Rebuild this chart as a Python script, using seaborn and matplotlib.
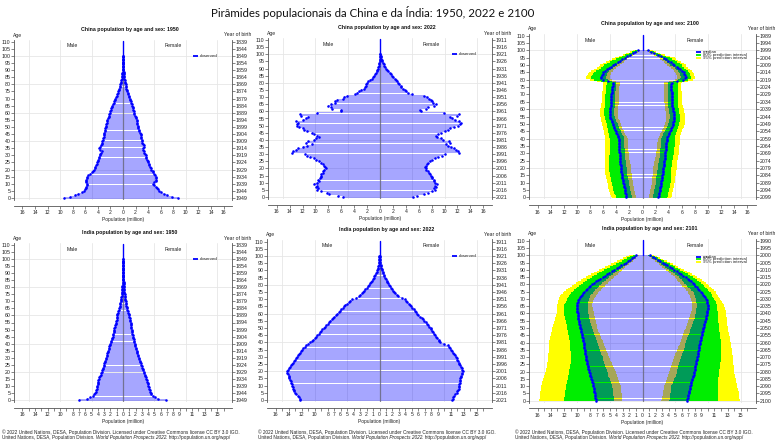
import numpy as np
import matplotlib
matplotlib.use("Agg")
import matplotlib.pyplot as plt
from matplotlib.lines import Line2D
import seaborn as sns

# ---------------- data (million people, single-year ages 0..100) ----------------
ages = list(range(101))
age_ticks = list(range(0, 111, 5))

cn1950_male = [
    9.4, 8.5, 7.6, 7.1, 6.6, 6.2, 6.0, 5.9, 5.9, 5.8,
    5.7, 5.9, 5.9, 5.9, 5.8, 5.8, 5.6, 5.2, 5.0, 4.8,
    4.6, 4.5, 4.4, 4.3, 4.2, 4.1, 4.0, 3.9, 3.8, 3.75,
    3.7, 3.6, 3.5, 3.4, 3.6, 3.8, 3.7, 3.5, 3.4, 3.35,
    3.3, 3.2, 3.15, 3.1, 3.05, 3.0, 2.95, 2.9, 2.85, 2.8,
    2.75, 2.7, 2.65, 2.6, 2.55, 2.5, 2.4, 2.3, 2.25, 2.2,
    2.1, 2.0, 1.9, 1.85, 1.8, 1.7, 1.6, 1.5, 1.4, 1.3,
    1.2, 1.1, 1.0, 0.9, 0.8, 0.75, 0.65, 0.6, 0.5, 0.45,
    0.4, 0.35, 0.3, 0.25, 0.2, 0.15, 0.12, 0.1, 0.08, 0.06,
    0.05, 0.04, 0.03, 0.02, 0.02, 0.01, 0.01, 0.01, 0.0, 0.0, 0.0]
cn1950_female = [
    8.7, 7.8, 7.0, 6.5, 6.1, 5.7, 5.5, 5.4, 5.2, 5.0,
    4.8, 5.0, 5.2, 5.2, 5.3, 5.2, 5.1, 5.0, 4.8, 4.7,
    4.5, 4.4, 4.3, 4.2, 4.1, 4.0, 3.9, 3.8, 3.7, 3.65,
    3.6, 3.5, 3.4, 3.3, 3.25, 3.2, 3.3, 3.3, 3.2, 3.1,
    3.0, 2.95, 2.9, 2.85, 2.8, 2.8, 2.7, 2.6, 2.5, 2.45,
    2.4, 2.35, 2.3, 2.25, 2.2, 2.2, 2.1, 2.0, 1.9, 1.8,
    1.75, 1.7, 1.65, 1.6, 1.55, 1.5, 1.4, 1.3, 1.2, 1.1,
    1.05, 0.95, 0.9, 0.8, 0.75, 0.7, 0.6, 0.55, 0.5, 0.45,
    0.4, 0.35, 0.3, 0.27, 0.23, 0.2, 0.17, 0.14, 0.11, 0.09,
    0.07, 0.05, 0.04, 0.03, 0.02, 0.02, 0.01, 0.01, 0.0, 0.0, 0.0]

cn2022_male = [
    5.7, 6.5, 7.9, 8.2, 9.2, 9.7, 9.6, 9.9, 9.7, 10.2,
    9.7, 9.5, 9.6, 9.3, 9.2, 9.2, 9.1, 8.9, 8.8, 8.6,
    8.4, 8.5, 8.6, 8.9, 9.1, 9.4, 9.9, 10.3, 10.8, 11.3,
    11.6, 13.7, 13.4, 13.0, 12.7, 11.9, 11.3, 10.5, 11.5, 11.1,
    10.3, 9.9, 9.4, 9.7, 10.2, 10.5, 11.3, 11.8, 12.0, 12.5,
    12.8, 12.9, 12.7, 13.0, 12.0, 11.5, 11.2, 12.3, 12.4, 9.7,
    6.0, 6.1, 7.4, 7.6, 8.1, 7.6, 6.9, 7.0, 6.6, 5.7,
    5.5, 5.1, 3.9, 3.6, 3.2, 2.9, 2.5, 2.4, 2.2, 2.1,
    2.0, 1.8, 1.5, 1.2, 1.1, 0.9, 0.7, 0.6, 0.5, 0.4,
    0.3, 0.25, 0.2, 0.15, 0.1, 0.07, 0.05, 0.03, 0.02, 0.01, 0.01]
cn2022_female = [
    5.05, 5.7, 6.8, 7.4, 8.1, 8.5, 8.4, 8.7, 8.5, 8.8,
    8.5, 8.3, 8.3, 8.1, 8.0, 7.9, 7.8, 7.6, 7.4, 7.2,
    7.1, 7.0, 7.1, 7.3, 7.5, 7.7, 8.1, 8.5, 9.0, 9.6,
    10.0, 12.3, 12.1, 11.8, 11.5, 11.0, 10.6, 10.2, 10.9, 10.7,
    9.8, 9.4, 8.8, 8.7, 9.0, 9.4, 10.0, 10.5, 10.8, 11.4,
    12.1, 12.4, 12.5, 12.3, 11.6, 11.2, 10.9, 12.0, 12.3, 9.9,
    6.3, 6.2, 7.2, 7.5, 8.3, 8.6, 8.2, 8.1, 7.9, 7.6,
    7.3, 6.8, 5.0, 4.4, 4.0, 3.8, 3.5, 3.3, 3.2, 3.0,
    2.8, 2.6, 2.5, 2.3, 2.0, 1.8, 1.7, 1.5, 1.3, 1.1,
    0.9, 0.8, 0.65, 0.55, 0.45, 0.35, 0.25, 0.2, 0.15, 0.1, 0.07]

# China 2100 projection: median and prediction intervals
cn2100_male = [
    2.45, 2.5, 2.55, 2.6, 2.65, 2.7, 2.75, 2.8, 2.85, 2.9,
    2.95, 3.0, 3.05, 3.1, 3.15, 3.2, 3.2, 3.25, 3.25, 3.3,
    3.3, 3.35, 3.35, 3.4, 3.4, 3.45, 3.45, 3.5, 3.5, 3.5,
    3.5, 3.55, 3.55, 3.55, 3.6, 3.6, 3.6, 3.6, 3.6, 3.6,
    3.6, 3.7, 3.8, 3.9, 4.0, 4.1, 4.2, 4.3, 4.4, 4.45,
    4.5, 4.6, 4.7, 4.8, 4.9, 4.95, 5.0, 5.0, 5.0, 5.0,
    4.95, 4.9, 4.85, 4.8, 4.8, 4.75, 4.75, 4.75, 4.75, 4.75,
    4.75, 4.7, 4.7, 4.65, 4.6, 4.6, 4.55, 4.5, 4.5, 5.2,
    6.0, 6.3, 6.3, 6.2, 6.1, 6.0, 5.7, 5.4, 5.1, 4.8,
    4.5, 4.2, 3.8, 3.5, 3.1, 2.7, 2.3, 1.9, 1.5, 1.1, 0.7]
cn2100_male_lo80 = [
    1.6, 1.65, 1.7, 1.75, 1.8, 1.85, 1.9, 1.95, 2.0, 2.05,
    2.1, 2.1, 2.15, 2.2, 2.25, 2.3, 2.3, 2.35, 2.35, 2.4,
    2.4, 2.45, 2.45, 2.5, 2.5, 2.55, 2.6, 2.6, 2.65, 2.65,
    2.7, 2.7, 2.75, 2.75, 2.8, 2.8, 2.8, 2.8, 2.8, 2.8,
    2.8, 2.9, 3.0, 3.1, 3.25, 3.35, 3.45, 3.55, 3.65, 3.75,
    3.8, 3.9, 4.0, 4.1, 4.2, 4.25, 4.3, 4.3, 4.3, 4.3,
    4.3, 4.25, 4.25, 4.2, 4.2, 4.2, 4.2, 4.2, 4.2, 4.2,
    4.2, 4.15, 4.15, 4.1, 4.1, 4.1, 4.05, 4.0, 4.0, 4.6,
    5.3, 5.6, 5.6, 5.5, 5.4, 5.3, 5.05, 4.8, 4.5, 4.2,
    3.9, 3.65, 3.3, 3.0, 2.7, 2.3, 1.95, 1.6, 1.25, 0.9, 0.55]
cn2100_male_lo95 = [
    1.0, 1.05, 1.1, 1.15, 1.2, 1.25, 1.3, 1.35, 1.4, 1.45,
    1.5, 1.5, 1.55, 1.6, 1.6, 1.65, 1.65, 1.7, 1.7, 1.7,
    1.7, 1.75, 1.8, 1.85, 1.9, 1.95, 2.0, 2.0, 2.05, 2.1,
    2.1, 2.15, 2.15, 2.2, 2.2, 2.2, 2.2, 2.2, 2.2, 2.2,
    2.2, 2.35, 2.5, 2.65, 2.8, 2.9, 3.0, 3.1, 3.2, 3.25,
    3.3, 3.4, 3.5, 3.6, 3.7, 3.75, 3.8, 3.8, 3.8, 3.8,
    3.75, 3.7, 3.7, 3.65, 3.65, 3.6, 3.6, 3.6, 3.6, 3.6,
    3.6, 3.6, 3.6, 3.55, 3.55, 3.55, 3.5, 3.5, 3.5, 4.1,
    4.7, 5.0, 5.0, 4.9, 4.85, 4.8, 4.55, 4.3, 4.0, 3.7,
    3.4, 3.15, 2.9, 2.6, 2.3, 2.0, 1.7, 1.4, 1.1, 0.75, 0.45]
cn2100_male_hi80 = [
    4.0, 4.1, 4.2, 4.3, 4.4, 4.45, 4.5, 4.55, 4.6, 4.65,
    4.7, 4.75, 4.8, 4.85, 4.9, 4.95, 5.0, 5.0, 5.05, 5.1,
    5.1, 5.1, 5.1, 5.1, 5.1, 5.1, 5.1, 5.05, 5.05, 5.0,
    5.0, 5.0, 5.0, 5.0, 5.0, 5.0, 5.0, 5.0, 5.0, 5.0,
    5.0, 5.05, 5.1, 5.15, 5.2, 5.25, 5.3, 5.35, 5.4, 5.45,
    5.5, 5.55, 5.6, 5.7, 5.75, 5.8, 5.85, 5.9, 5.9, 5.9,
    5.85, 5.8, 5.8, 5.75, 5.75, 5.7, 5.7, 5.7, 5.7, 5.7,
    5.7, 5.65, 5.65, 5.6, 5.6, 5.6, 5.55, 5.5, 5.5, 6.4,
    7.4, 7.8, 7.8, 7.7, 7.55, 7.4, 7.05, 6.7, 6.35, 6.1,
    5.9, 5.5, 5.0, 4.6, 4.1, 3.6, 3.1, 2.6, 2.1, 1.6, 1.1]
cn2100_male_hi95 = [
    4.7, 4.8, 4.9, 5.0, 5.1, 5.15, 5.2, 5.25, 5.3, 5.35,
    5.4, 5.45, 5.5, 5.55, 5.6, 5.65, 5.7, 5.7, 5.75, 5.8,
    5.8, 5.8, 5.8, 5.8, 5.8, 5.8, 5.8, 5.75, 5.75, 5.7,
    5.7, 5.7, 5.7, 5.7, 5.7, 5.7, 5.7, 5.7, 5.7, 5.7,
    5.7, 5.75, 5.8, 5.85, 5.9, 5.95, 6.0, 6.05, 6.1, 6.15,
    6.2, 6.25, 6.3, 6.35, 6.4, 6.45, 6.5, 6.5, 6.5, 6.5,
    6.45, 6.4, 6.4, 6.35, 6.3, 6.25, 6.2, 6.2, 6.2, 6.2,
    6.2, 6.15, 6.15, 6.1, 6.1, 6.1, 6.05, 6.0, 6.0, 7.0,
    8.1, 8.6, 8.6, 8.5, 8.35, 8.2, 7.8, 7.4, 7.0, 6.7,
    6.5, 6.1, 5.6, 5.1, 4.7, 4.2, 3.6, 3.0, 2.5, 1.9, 1.4]

cn2100_female = [
    2.4, 2.45, 2.5, 2.55, 2.6, 2.65, 2.7, 2.75, 2.8, 2.85,
    2.9, 2.9, 2.95, 3.0, 3.0, 3.05, 3.1, 3.1, 3.15, 3.2,
    3.2, 3.25, 3.25, 3.3, 3.3, 3.35, 3.4, 3.4, 3.45, 3.45,
    3.5, 3.5, 3.55, 3.55, 3.6, 3.6, 3.65, 3.65, 3.7, 3.7,
    3.7, 3.8, 3.9, 4.0, 4.1, 4.2, 4.3, 4.4, 4.5, 4.6,
    4.65, 4.7, 4.75, 4.8, 4.85, 4.85, 4.85, 4.8, 4.75, 4.7,
    4.65, 4.6, 4.55, 4.5, 4.5, 4.45, 4.45, 4.45, 4.45, 4.45,
    4.45, 4.45, 4.45, 4.4, 4.4, 4.4, 4.4, 4.4, 4.45, 5.3,
    6.2, 6.5, 6.6, 6.5, 6.4, 6.3, 6.1, 5.8, 5.5, 5.2,
    4.85, 4.6, 4.3, 3.9, 3.6, 3.3, 2.8, 2.3, 1.8, 1.3, 0.8]
cn2100_female_lo80 = [
    1.55, 1.6, 1.65, 1.7, 1.75, 1.8, 1.85, 1.9, 1.95, 2.0,
    2.0, 2.0, 2.05, 2.1, 2.1, 2.15, 2.2, 2.2, 2.25, 2.3,
    2.3, 2.35, 2.35, 2.4, 2.45, 2.5, 2.55, 2.6, 2.65, 2.65,
    2.7, 2.7, 2.75, 2.75, 2.8, 2.8, 2.85, 2.85, 2.9, 2.9,
    2.9, 3.0, 3.1, 3.2, 3.3, 3.45, 3.55, 3.65, 3.75, 3.85,
    3.95, 4.0, 4.05, 4.1, 4.15, 4.15, 4.15, 4.1, 4.05, 4.0,
    4.0, 3.95, 3.9, 3.9, 3.9, 3.85, 3.85, 3.85, 3.85, 3.9,
    3.9, 3.9, 3.9, 3.85, 3.85, 3.85, 3.85, 3.85, 3.9, 4.7,
    5.5, 5.8, 5.9, 5.8, 5.7, 5.6, 5.4, 5.15, 4.9, 4.6,
    4.25, 4.0, 3.75, 3.4, 3.15, 2.9, 2.45, 2.0, 1.55, 1.1, 0.65]
cn2100_female_lo95 = [
    0.95, 1.0, 1.05, 1.1, 1.15, 1.2, 1.25, 1.3, 1.35, 1.4,
    1.4, 1.4, 1.45, 1.5, 1.5, 1.55, 1.55, 1.55, 1.6, 1.6,
    1.6, 1.65, 1.7, 1.75, 1.8, 1.85, 1.9, 1.95, 2.0, 2.05,
    2.1, 2.1, 2.15, 2.15, 2.2, 2.2, 2.25, 2.25, 2.3, 2.3,
    2.3, 2.45, 2.6, 2.7, 2.8, 2.95, 3.05, 3.15, 3.25, 3.35,
    3.45, 3.5, 3.55, 3.6, 3.65, 3.65, 3.65, 3.6, 3.55, 3.5,
    3.5, 3.45, 3.4, 3.4, 3.4, 3.35, 3.35, 3.35, 3.35, 3.35,
    3.35, 3.35, 3.35, 3.3, 3.3, 3.3, 3.3, 3.3, 3.35, 4.1,
    4.9, 5.2, 5.3, 5.2, 5.1, 5.0, 4.8, 4.6, 4.35, 4.1,
    3.75, 3.5, 3.3, 3.0, 2.75, 2.55, 2.15, 1.75, 1.35, 0.95, 0.55]
cn2100_female_hi80 = [
    3.8, 3.85, 3.9, 3.95, 4.0, 4.05, 4.1, 4.15, 4.2, 4.25,
    4.3, 4.3, 4.35, 4.35, 4.4, 4.4, 4.4, 4.4, 4.4, 4.4,
    4.4, 4.45, 4.45, 4.5, 4.5, 4.55, 4.6, 4.65, 4.7, 4.75,
    4.8, 4.8, 4.85, 4.85, 4.85, 4.9, 4.9, 4.9, 4.9, 4.9,
    4.9, 4.95, 5.0, 5.05, 5.1, 5.2, 5.3, 5.4, 5.5, 5.55,
    5.6, 5.65, 5.7, 5.7, 5.7, 5.7, 5.7, 5.65, 5.6, 5.6,
    5.55, 5.5, 5.5, 5.5, 5.5, 5.5, 5.5, 5.5, 5.5, 5.5,
    5.5, 5.5, 5.5, 5.45, 5.45, 5.45, 5.45, 5.4, 5.45, 6.4,
    7.0, 7.4, 7.4, 7.3, 7.2, 7.1, 6.9, 6.6, 6.3, 6.1,
    6.0, 5.7, 5.3, 4.9, 4.5, 4.2, 3.6, 2.9, 2.3, 1.7, 1.2]
cn2100_female_hi95 = [
    4.4, 4.45, 4.5, 4.55, 4.6, 4.65, 4.7, 4.75, 4.8, 4.85,
    4.9, 4.9, 4.95, 5.0, 5.0, 5.05, 5.1, 5.1, 5.15, 5.2,
    5.2, 5.25, 5.25, 5.3, 5.3, 5.35, 5.4, 5.45, 5.5, 5.55,
    5.6, 5.6, 5.6, 5.65, 5.65, 5.65, 5.7, 5.7, 5.7, 5.7,
    5.7, 5.75, 5.8, 5.85, 5.9, 6.0, 6.1, 6.2, 6.3, 6.4,
    6.45, 6.5, 6.5, 6.5, 6.5, 6.5, 6.5, 6.45, 6.4, 6.35,
    6.3, 6.2, 6.15, 6.1, 6.05, 6.0, 6.0, 6.0, 6.0, 6.0,
    6.0, 6.0, 6.0, 5.95, 5.95, 5.95, 5.95, 5.9, 6.0, 7.0,
    7.7, 8.0, 8.0, 7.9, 7.8, 7.7, 7.5, 7.2, 6.9, 6.7,
    6.7, 6.3, 5.9, 5.5, 5.1, 5.0, 4.2, 3.4, 2.7, 2.0, 1.6]

in1950_male = [
    7.0, 5.7, 5.2, 4.8, 4.6, 4.4, 4.3, 4.25, 4.2, 4.15,
    4.1, 4.05, 4.0, 3.95, 3.9, 3.8, 3.75, 3.65, 3.55, 3.5,
    3.4, 3.3, 3.25, 3.15, 3.1, 3.0, 2.95, 2.9, 2.8, 2.7,
    2.65, 2.6, 2.55, 2.5, 2.45, 2.4, 2.3, 2.25, 2.15, 2.1,
    2.0, 1.95, 1.85, 1.8, 1.7, 1.65, 1.6, 1.55, 1.5, 1.47,
    1.45, 1.4, 1.3, 1.2, 1.15, 1.1, 1.05, 1.0, 1.0, 0.97,
    0.95, 0.88, 0.8, 0.72, 0.65, 0.6, 0.55, 0.5, 0.45, 0.4,
    0.37, 0.33, 0.3, 0.26, 0.23, 0.2, 0.18, 0.15, 0.13, 0.11,
    0.1, 0.08, 0.07, 0.06, 0.05, 0.04, 0.03, 0.03, 0.02, 0.02,
    0.01, 0.01, 0.01, 0.0, 0.0, 0.0, 0.0, 0.0, 0.0, 0.0, 0.0]
in1950_female = [
    6.9, 5.6, 5.1, 4.7, 4.5, 4.4, 4.3, 4.25, 4.2, 4.1,
    4.05, 4.0, 3.95, 3.85, 3.8, 3.7, 3.6, 3.55, 3.45, 3.4,
    3.3, 3.2, 3.15, 3.05, 3.0, 2.9, 2.85, 2.75, 2.65, 2.6,
    2.5, 2.45, 2.4, 2.3, 2.2, 2.15, 2.1, 2.0, 1.95, 1.9,
    1.85, 1.8, 1.75, 1.7, 1.65, 1.6, 1.55, 1.5, 1.45, 1.42,
    1.4, 1.35, 1.3, 1.25, 1.22, 1.2, 1.15, 1.1, 1.05, 1.0,
    0.95, 0.88, 0.8, 0.72, 0.65, 0.6, 0.56, 0.52, 0.47, 0.43,
    0.4, 0.37, 0.33, 0.3, 0.27, 0.25, 0.22, 0.2, 0.18, 0.16,
    0.15, 0.13, 0.11, 0.09, 0.08, 0.07, 0.06, 0.05, 0.04, 0.03,
    0.02, 0.02, 0.01, 0.01, 0.01, 0.0, 0.0, 0.0, 0.0, 0.0, 0.0]

in2022_male = [
    12.2, 12.25, 12.4, 12.6, 12.9, 13.1, 13.15, 13.2, 13.3, 13.4,
    13.5, 13.55, 13.6, 13.7, 13.8, 13.9, 13.95, 14.0, 14.1, 14.2,
    14.3, 14.1, 13.9, 13.75, 13.6, 13.5, 13.35, 13.2, 13.1, 12.9,
    12.7, 12.55, 12.4, 12.3, 12.15, 12.0, 11.8, 11.5, 11.3, 11.0,
    10.7, 10.45, 10.2, 10.0, 9.8, 9.6, 9.4, 9.2, 9.0, 8.8,
    8.6, 8.4, 8.2, 8.0, 7.8, 7.6, 7.4, 7.2, 6.95, 6.7,
    6.5, 6.3, 6.1, 5.9, 5.7, 5.5, 5.25, 5.0, 4.75, 4.5,
    4.2, 3.7, 3.2, 3.0, 2.75, 2.5, 2.35, 2.2, 2.0, 1.8,
    1.65, 1.5, 1.35, 1.2, 1.05, 0.9, 0.8, 0.7, 0.55, 0.45,
    0.35, 0.3, 0.25, 0.2, 0.15, 0.1, 0.08, 0.06, 0.04, 0.03, 0.02]
in2022_female = [
    11.2, 11.3, 11.4, 11.5, 11.7, 11.9, 12.0, 12.1, 12.2, 12.25,
    12.3, 12.3, 12.35, 12.35, 12.4, 12.4, 12.5, 12.6, 12.7, 12.8,
    12.9, 12.8, 12.7, 12.6, 12.45, 12.3, 12.2, 12.1, 12.0, 11.9,
    11.75, 11.6, 11.5, 11.4, 11.25, 11.1, 10.9, 10.7, 10.5, 10.0,
    9.4, 9.25, 9.1, 8.9, 8.75, 8.6, 8.45, 8.3, 8.15, 8.0,
    7.9, 7.7, 7.5, 7.3, 7.1, 6.9, 6.7, 6.5, 6.25, 6.0,
    5.8, 5.6, 5.45, 5.25, 5.05, 4.9, 4.7, 4.5, 4.3, 4.1,
    3.9, 3.4, 2.9, 2.7, 2.45, 2.2, 2.05, 1.9, 1.75, 1.6,
    1.45, 1.3, 1.2, 1.1, 0.95, 0.8, 0.72, 0.64, 0.56, 0.48,
    0.4, 0.35, 0.3, 0.25, 0.2, 0.15, 0.12, 0.09, 0.06, 0.04, 0.03]

# India 2101 projection: median and prediction intervals
in2100_male = [
    7.1, 7.15, 7.2, 7.2, 7.25, 7.3, 7.35, 7.4, 7.4, 7.45,
    7.5, 7.55, 7.6, 7.7, 7.75, 7.8, 7.9, 8.0, 8.05, 8.1,
    8.2, 8.25, 8.3, 8.35, 8.4, 8.45, 8.5, 8.55, 8.6, 8.65,
    8.7, 8.7, 8.75, 8.8, 8.8, 8.85, 8.9, 8.9, 8.95, 9.0,
    9.0, 9.05, 9.1, 9.15, 9.2, 9.25, 9.3, 9.35, 9.4, 9.45,
    9.5, 9.55, 9.6, 9.65, 9.7, 9.75, 9.8, 9.85, 9.85, 9.9,
    9.9, 9.95, 9.95, 10.0, 10.0, 10.0, 10.0, 9.95, 9.9, 9.8,
    9.7, 9.6, 9.45, 9.3, 9.1, 8.9, 8.7, 8.45, 8.2, 7.95,
    7.7, 7.4, 7.1, 6.8, 6.45, 6.1, 5.75, 5.4, 5.05, 4.7,
    4.3, 3.95, 3.6, 3.25, 2.9, 2.55, 2.2, 1.9, 1.6, 1.3, 1.0]
in2100_male_lo80 = [
    4.3, 4.35, 4.4, 4.4, 4.45, 4.5, 4.5, 4.55, 4.55, 4.6,
    4.6, 4.7, 4.8, 4.85, 4.95, 5.0, 5.1, 5.2, 5.25, 5.3,
    5.4, 5.45, 5.55, 5.6, 5.7, 5.75, 5.85, 5.9, 6.0, 6.05,
    6.1, 6.2, 6.3, 6.35, 6.45, 6.5, 6.6, 6.65, 6.75, 6.8,
    6.9, 7.0, 7.05, 7.15, 7.25, 7.3, 7.4, 7.45, 7.55, 7.6,
    7.7, 7.75, 7.8, 7.9, 7.95, 8.0, 8.1, 8.15, 8.2, 8.25,
    8.3, 8.3, 8.35, 8.35, 8.4, 8.4, 8.4, 8.35, 8.3, 8.25,
    8.2, 8.1, 7.95, 7.8, 7.6, 7.4, 7.2, 7.0, 6.8, 6.6,
    6.4, 6.15, 5.9, 5.6, 5.35, 5.1, 4.8, 4.5, 4.2, 3.9,
    3.6, 3.3, 3.0, 2.7, 2.35, 2.0, 1.75, 1.5, 1.25, 1.0, 0.77]
in2100_male_lo95 = [
    3.1, 3.1, 3.15, 3.15, 3.2, 3.2, 3.25, 3.25, 3.3, 3.3,
    3.3, 3.4, 3.5, 3.55, 3.65, 3.7, 3.8, 3.9, 3.95, 4.0,
    4.1, 4.2, 4.3, 4.4, 4.5, 4.6, 4.7, 4.8, 4.9, 5.0,
    5.1, 5.2, 5.3, 5.4, 5.5, 5.55, 5.65, 5.75, 5.85, 5.9,
    6.0, 6.1, 6.2, 6.3, 6.4, 6.45, 6.55, 6.65, 6.75, 6.8,
    6.9, 6.95, 7.0, 7.05, 7.1, 7.15, 7.2, 7.25, 7.3, 7.35,
    7.4, 7.45, 7.5, 7.55, 7.6, 7.7, 7.7, 7.65, 7.55, 7.5,
    7.4, 7.3, 7.15, 7.0, 6.8, 6.6, 6.4, 6.2, 6.0, 5.8,
    5.6, 5.35, 5.1, 4.8, 4.55, 4.3, 4.05, 3.8, 3.55, 3.3,
    3.1, 2.85, 2.6, 2.35, 2.05, 1.7, 1.5, 1.3, 1.05, 0.8, 0.6]
in2100_male_hi80 = [
    12.0, 12.0, 11.95, 11.9, 11.9, 11.85, 11.8, 11.8, 11.75, 11.7,
    11.7, 11.65, 11.6, 11.55, 11.5, 11.45, 11.4, 11.35, 11.3, 11.25,
    11.2, 11.2, 11.15, 11.1, 11.1, 11.05, 11.0, 11.0, 11.0, 11.0,
    11.0, 11.0, 11.0, 11.0, 11.0, 11.05, 11.05, 11.05, 11.1, 11.1,
    11.1, 11.15, 11.2, 11.2, 11.25, 11.3, 11.35, 11.4, 11.45, 11.5,
    11.5, 11.55, 11.6, 11.65, 11.7, 11.75, 11.8, 11.85, 11.9, 11.95,
    12.0, 12.0, 12.0, 12.0, 12.0, 12.0, 11.95, 11.85, 11.75, 11.6,
    11.5, 11.35, 11.2, 11.05, 10.9, 10.7, 10.45, 10.2, 9.95, 9.7,
    9.4, 9.1, 8.8, 8.45, 8.1, 7.7, 7.35, 7.0, 6.6, 6.25,
    5.9, 5.45, 5.0, 4.55, 4.1, 3.6, 3.2, 2.8, 2.4, 1.95, 1.5]
in2100_male_hi95 = [
    15.8, 15.75, 15.7, 15.7, 15.65, 15.6, 15.6, 15.55, 15.5, 15.5,
    15.5, 15.4, 15.35, 15.3, 15.2, 15.15, 15.1, 15.0, 14.95, 14.9,
    14.8, 14.75, 14.7, 14.65, 14.6, 14.6, 14.55, 14.5, 14.45, 14.4,
    14.4, 14.4, 14.4, 14.35, 14.35, 14.35, 14.3, 14.3, 14.3, 14.3,
    14.3, 14.25, 14.2, 14.15, 14.1, 14.05, 14.0, 13.95, 13.9, 13.85,
    13.8, 13.75, 13.65, 13.6, 13.5, 13.45, 13.4, 13.3, 13.25, 13.2,
    13.1, 13.1, 13.05, 13.05, 13.0, 13.0, 13.0, 12.95, 12.9, 12.85,
    12.8, 12.7, 12.6, 12.4, 12.2, 12.0, 11.7, 11.4, 11.1, 10.8,
    10.5, 10.15, 9.8, 9.45, 9.1, 8.7, 8.3, 7.9, 7.45, 7.0,
    6.6, 6.15, 5.7, 5.2, 4.75, 4.3, 3.85, 3.4, 2.95, 2.5, 2.0]

in2100_female = [
    6.8, 6.85, 6.9, 6.95, 7.0, 7.05, 7.1, 7.15, 7.2, 7.25,
    7.3, 7.35, 7.4, 7.45, 7.5, 7.6, 7.65, 7.7, 7.8, 7.85,
    7.9, 7.95, 8.0, 8.05, 8.1, 8.15, 8.2, 8.25, 8.3, 8.35,
    8.4, 8.45, 8.5, 8.5, 8.55, 8.6, 8.65, 8.7, 8.7, 8.75,
    8.8, 8.85, 8.9, 8.95, 9.0, 9.05, 9.1, 9.15, 9.2, 9.25,
    9.3, 9.35, 9.4, 9.45, 9.5, 9.6, 9.65, 9.7, 9.75, 9.8,
    9.85, 9.9, 9.9, 9.95, 9.95, 9.95, 9.95, 9.9, 9.85, 9.8,
    9.7, 9.6, 9.45, 9.3, 9.1, 8.9, 8.7, 8.5, 8.3, 8.1,
    7.9, 7.65, 7.4, 7.15, 6.9, 6.6, 6.25, 5.9, 5.55, 5.2,
    4.85, 4.5, 4.15, 3.8, 3.45, 3.1, 2.7, 2.3, 1.95, 1.55, 1.2]
in2100_female_lo80 = [
    4.1, 4.15, 4.2, 4.2, 4.25, 4.25, 4.3, 4.3, 4.35, 4.35,
    4.4, 4.5, 4.6, 4.7, 4.8, 4.85, 4.95, 5.05, 5.15, 5.2,
    5.3, 5.35, 5.4, 5.45, 5.5, 5.6, 5.65, 5.7, 5.8, 5.85,
    5.9, 6.0, 6.05, 6.15, 6.2, 6.3, 6.35, 6.45, 6.5, 6.55,
    6.6, 6.7, 6.75, 6.85, 6.95, 7.0, 7.1, 7.2, 7.25, 7.3,
    7.4, 7.5, 7.55, 7.65, 7.7, 7.8, 7.85, 7.95, 8.05, 8.1,
    8.2, 8.2, 8.25, 8.25, 8.3, 8.3, 8.3, 8.3, 8.25, 8.2,
    8.2, 8.1, 8.0, 7.9, 7.8, 7.65, 7.45, 7.25, 7.0, 6.8,
    6.6, 6.4, 6.2, 6.0, 5.8, 5.6, 5.3, 5.0, 4.7, 4.4,
    4.1, 3.8, 3.5, 3.2, 2.85, 2.55, 2.2, 1.85, 1.5, 1.2, 0.9]
in2100_female_lo95 = [
    2.9, 2.95, 3.0, 3.05, 3.1, 3.1, 3.15, 3.2, 3.25, 3.3,
    3.3, 3.4, 3.5, 3.55, 3.65, 3.7, 3.8, 3.9, 3.95, 4.0,
    4.1, 4.15, 4.25, 4.3, 4.4, 4.45, 4.55, 4.6, 4.7, 4.75,
    4.8, 4.9, 5.0, 5.1, 5.2, 5.3, 5.4, 5.5, 5.6, 5.7,
    5.8, 5.9, 5.95, 6.05, 6.1, 6.2, 6.25, 6.35, 6.4, 6.5,
    6.6, 6.7, 6.75, 6.85, 6.9, 7.0, 7.05, 7.15, 7.2, 7.3,
    7.4, 7.45, 7.5, 7.55, 7.55, 7.6, 7.6, 7.55, 7.5, 7.45,
    7.4, 7.3, 7.2, 7.1, 7.0, 6.9, 6.7, 6.5, 6.3, 6.1,
    5.9, 5.7, 5.5, 5.3, 5.1, 4.9, 4.65, 4.4, 4.1, 3.85,
    3.6, 3.3, 3.0, 2.75, 2.45, 2.2, 1.9, 1.6, 1.3, 1.0, 0.77]
in2100_female_hi80 = [
    11.5, 11.5, 11.5, 11.5, 11.5, 11.5, 11.5, 11.5, 11.5, 11.5,
    11.5, 11.5, 11.55, 11.55, 11.6, 11.6, 11.6, 11.65, 11.65, 11.7,
    11.7, 11.75, 11.8, 11.8, 11.85, 11.9, 11.9, 11.95, 11.95, 12.0,
    12.0, 12.0, 12.0, 12.0, 12.0, 12.0, 12.0, 12.0, 12.0, 12.0,
    12.0, 11.95, 11.95, 11.9, 11.9, 11.85, 11.85, 11.8, 11.75, 11.7,
    11.7, 11.7, 11.65, 11.65, 11.6, 11.6, 11.55, 11.55, 11.5, 11.5,
    11.5, 11.5, 11.45, 11.45, 11.4, 11.4, 11.35, 11.3, 11.2, 11.1,
    11.0, 10.85, 10.7, 10.55, 10.4, 10.2, 10.0, 9.8, 9.6, 9.4,
    9.2, 8.9, 8.6, 8.3, 8.0, 7.65, 7.3, 6.95, 6.55, 6.2,
    5.8, 5.4, 5.0, 4.6, 4.15, 3.7, 3.3, 2.85, 2.4, 1.95, 1.5]
in2100_female_hi95 = [
    14.9, 14.85, 14.8, 14.8, 14.75, 14.7, 14.7, 14.6, 14.55, 14.5,
    14.5, 14.45, 14.4, 14.35, 14.3, 14.25, 14.2, 14.15, 14.1, 14.05,
    14.0, 14.0, 14.0, 13.95, 13.95, 13.9, 13.9, 13.85, 13.85, 13.8,
    13.8, 13.8, 13.75, 13.75, 13.7, 13.65, 13.65, 13.6, 13.55, 13.55,
    13.5, 13.45, 13.4, 13.35, 13.3, 13.25, 13.2, 13.15, 13.1, 13.05,
    13.0, 13.0, 12.95, 12.95, 12.9, 12.9, 12.85, 12.85, 12.8, 12.8,
    12.8, 12.75, 12.7, 12.6, 12.55, 12.5, 12.4, 12.3, 12.2, 12.05,
    11.9, 11.75, 11.6, 11.45, 11.3, 11.2, 10.95, 10.7, 10.45, 10.2,
    9.95, 9.65, 9.35, 9.05, 8.75, 8.4, 8.0, 7.6, 7.2, 6.8,
    6.4, 5.95, 5.5, 5.05, 4.6, 4.2, 3.7, 3.2, 2.75, 2.25, 1.8]

# x tick labels
china_xticks = list(range(-16, 17, 2))
india_xticks = list(range(-16, 17))
india_xlabels = ['16', '', '14', '', '12', '', '10', '', '8', '7', '6', '5', '4', '3', '2', '1',
                 '0', '1', '2', '3', '4', '5', '6', '7', '8', '9', '', '11', '', '13', '', '15', '']

# ---------------- style ----------------
sns.set_theme(style="white")
plt.rcParams['font.family'] = ['Liberation Sans', 'DejaVu Sans']

W, H = 780, 444
fig = plt.figure(figsize=(W / 100, H / 100), dpi=100)

BLUE = '#0000ff'
YELLOW = '#ffff00'
GREEN = '#00ee00'
GRID = '#e6e6e6'
SPINE = '#555555'


def px_axes(l, t, r, b):
    return fig.add_axes([l / W, 1 - b / H, (r - l) / W, (b - t) / H])


def draw_pyramid(ax, title, year, male, female, india=False, bands=None):
    ages_arr = np.array(ages)
    for gx in (-15, -10, -5, 5, 10, 15):
        ax.axvline(gx, color=GRID, lw=0.6, zorder=0)
    for gy in range(0, 101, 20):
        ax.axhline(gy, color=GRID, lw=0.6, zorder=0)

    if bands is not None:
        (m_lo80, m_hi80, m_lo95, m_hi95, f_lo80, f_hi80, f_lo95, f_hi95) = [np.array(b) for b in bands]
        ax.barh(ages_arr, m_hi95 - m_lo95, left=-m_hi95, height=1.0, color=YELLOW, lw=0, zorder=1)
        ax.barh(ages_arr, f_hi95 - f_lo95, left=f_lo95, height=1.0, color=YELLOW, lw=0, zorder=1)
        ax.barh(ages_arr, m_hi80 - m_lo80, left=-m_hi80, height=1.0, color=GREEN, lw=0, zorder=1.1)
        ax.barh(ages_arr, f_hi80 - f_lo80, left=f_lo80, height=1.0, color=GREEN, lw=0, zorder=1.1)

    m = -np.array(male)
    f = np.array(female)
    sns.barplot(x=m, y=ages, orient='y', native_scale=True, color=BLUE, saturation=1,
                alpha=0.35, width=0.92, errorbar=None, linewidth=0, ax=ax, zorder=2)
    sns.barplot(x=f, y=ages, orient='y', native_scale=True, color=BLUE, saturation=1,
                alpha=0.35, width=0.92, errorbar=None, linewidth=0, ax=ax, zorder=2)

    ax.plot([0, 0], [-0.5, 100], color='#666677', lw=0.9, alpha=0.8, zorder=3)
    ax.plot([0, 0], [100, 110.5], color=BLUE, lw=1.0, zorder=3)

    sns.scatterplot(x=m, y=ages, color=BLUE, s=3.4, marker='o', linewidth=0, ax=ax,
                    zorder=4, legend=False)
    sns.scatterplot(x=f, y=ages, color=BLUE, s=3.4, marker='o', linewidth=0, ax=ax,
                    zorder=4, legend=False)

    ax.set_xlim(-17.35, 17.35)
    ax.set_ylim(-1.5, 111.5)
    ax.set_xlabel('Population (million)', fontsize=3.5, labelpad=1.5, color='#222222')
    ax.set_ylabel('')

    if india:
        ax.set_xticks(india_xticks)
        ax.set_xticklabels(india_xlabels)
    else:
        ax.set_xticks(china_xticks)
        ax.set_xticklabels([str(abs(v)) for v in china_xticks])
    ax.set_yticks(age_ticks)
    ax.set_yticklabels([str(a) for a in age_ticks])
    ax.tick_params(axis='x', bottom=True, length=2, width=0.5, pad=1.2, labelsize=3.6,
                   color=SPINE, labelcolor='#222222')
    ax.tick_params(axis='y', left=True, length=2, width=0.5, pad=0.4, labelsize=3.8,
                   color=SPINE, labelcolor='#222222')
    for s in ('top', 'right'):
        ax.spines[s].set_visible(False)
    for s in ('left', 'bottom'):
        ax.spines[s].set_color(SPINE)
        ax.spines[s].set_linewidth(0.6)
    ax.spines['bottom'].set_position(('outward', 4))

    ax2 = ax.twinx()
    ax2.set_ylim(ax.get_ylim())
    ax2.set_yticks(age_ticks)
    ax2.set_yticklabels([str(year - 1 - a) for a in age_ticks])
    ax2.tick_params(axis='y', right=True, length=2, width=0.5, pad=0.4, labelsize=3.8,
                    color=SPINE, labelcolor='#222222')
    for s in ('top', 'left', 'bottom'):
        ax2.spines[s].set_visible(False)
    ax2.spines['right'].set_color(SPINE)
    ax2.spines['right'].set_linewidth(0.6)

    ax.text(-8, 107, 'Male', ha='center', va='center', fontsize=3.7, color='#222222', zorder=5)
    ax.text(8, 107, 'Female', ha='center', va='center', fontsize=3.7, color='#222222', zorder=5)

    ax.annotate(title, xy=(0.5, 1), xycoords='axes fraction', xytext=(7, 10.5),
                textcoords='offset pixels', ha='center', va='center',
                fontsize=3.8, fontweight='bold', color='#111111')
    ax.annotate('Age', xy=(0, 1), xycoords='axes fraction', xytext=(-1, 4.6),
                textcoords='offset pixels', ha='left', va='center', fontsize=3.6, color='#222222')
    ax.annotate('Year of birth', xy=(1, 1), xycoords='axes fraction', xytext=(6, 4.6),
                textcoords='offset pixels', ha='center', va='center', fontsize=3.6, color='#222222')

    if bands is None:
        entries = [('observed', BLUE)]
    else:
        entries = [('median', BLUE), ('80% prediction interval', GREEN),
                   ('95% prediction interval', YELLOW)]
    x0, y0 = (0.82, 0.9) if bands is None else (0.735, 0.89)
    dy = 2.9 / (ax.bbox.height)
    for i, (lab, col) in enumerate(entries):
        y = y0 - i * dy
        ax.add_line(Line2D([x0, x0 + 0.024], [y, y], transform=ax.transAxes, color=col,
                           lw=1.3, solid_capstyle='butt', zorder=6))
        ax.text(x0 + 0.032, y, lab, transform=ax.transAxes, ha='left', va='center',
                fontsize=3.2, color='#222222', zorder=6)


panels = [
    ((14, 39.6, 232, 200.1), 'China population by age and sex: 1950', 1950,
     cn1950_male, cn1950_female, False, None),
    ((268, 37.9, 492, 199.1), 'China population by age and sex: 2022', 2022,
     cn2022_male, cn2022_female, False, None),
    ((529, 33.5, 756, 199.5), 'China population by age and sex: 2100', 2100,
     cn2100_male, cn2100_female, False,
     (cn2100_male_lo80, cn2100_male_hi80, cn2100_male_lo95, cn2100_male_hi95,
      cn2100_female_lo80, cn2100_female_hi80, cn2100_female_lo95, cn2100_female_hi95)),
    ((14, 242.9, 232, 402.1), 'India population by age and sex: 1950', 1950,
     in1950_male, in1950_female, True, None),
    ((267, 239.5, 492, 402.2), 'India population by age and sex: 2022', 2022,
     in2022_male, in2022_female, True, None),
    ((529, 238.5, 756, 402.9), 'India population by age and sex: 2101', 2101,
     in2100_male, in2100_female, True,
     (in2100_male_lo80, in2100_male_hi80, in2100_male_lo95, in2100_male_hi95,
      in2100_female_lo80, in2100_female_hi80, in2100_female_lo95, in2100_female_hi95)),
]

for box, title, year, male, female, india, bands in panels:
    ax = px_axes(*box)
    draw_pyramid(ax, title, year, male, female, india, bands)

# source notes under the bottom row
for x_px in (2, 258, 515):
    fx = x_px / W
    fig.text(fx, 1 - 432 / H, '© 2022 United Nations, DESA, Population Division. Licensed under '
             'Creative Commons license CC BY 3.0 IGO.', ha='left', va='center',
             fontsize=3.4, color='#222222')
    t1 = fig.text(fx, 1 - 437.8 / H, 'United Nations, DESA, Population Division. ',
                  ha='left', va='center', fontsize=3.4, color='#222222')
    t2 = fig.text(0, 0, 'World Population Prospects 2022', fontsize=3.4, style='italic',
                  color='#222222', ha='left', va='center')
    t3 = fig.text(0, 0, '. http://population.un.org/wpp/', fontsize=3.4,
                  color='#222222', ha='left', va='center')
    fig.canvas.draw()
    r = fig.canvas.get_renderer()
    bb1 = t1.get_window_extent(r)
    t2.set_position(((bb1.x1) / W, 1 - 437.8 / H))
    bb2 = t2.get_window_extent(r)
    t3.set_position(((bb2.x1) / W, 1 - 437.8 / H))

fig.text(373 / W, 1 - 12.5 / H, 'Pirâmides populacionais da China e da Índia: 1950, 2022 e 2100',
         ha='center', va='center', fontsize=8.3, family=['Lato', 'DejaVu Sans'], color='#111111')

fig.savefig('out.png', dpi=100)
